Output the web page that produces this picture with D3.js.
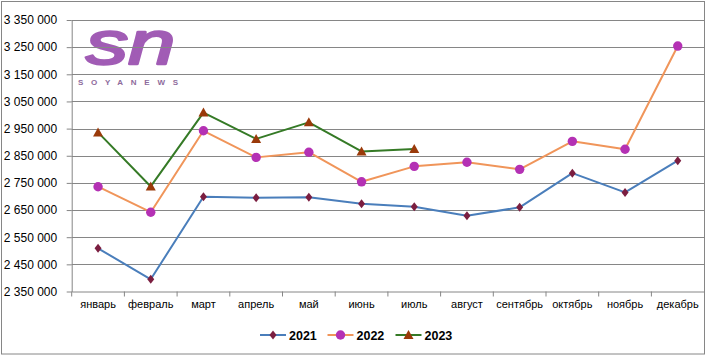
<!DOCTYPE html>
<html><head><meta charset="utf-8">
<script src="https://cdn.jsdelivr.net/npm/d3@7"></script>
<style>html,body{margin:0;padding:0;background:#fff;}svg{display:block;}</style>
</head><body>
<svg id="c" width="706" height="356"></svg>
<script>
const months = ["январь","февраль","март","апрель","май","июнь","июль","август","сентябрь","октябрь","ноябрь","декабрь"];
const yTicks = [2350000,2450000,2550000,2650000,2750000,2850000,2950000,3050000,3150000,3250000,3350000];
const s2021 = [2509000,2395000,2699000,2695000,2697000,2673000,2662000,2629000,2660000,2786000,2715000,2832000];
const s2022 = [2736000,2642000,2942000,2844000,2863000,2754000,2811000,2826000,2800000,2903000,2874000,3254000];
const s2023 = [2936000,2737000,3009000,2912000,2973000,2866000,2875000];
const seriesNames = ["2021","2022","2023"];

const svg = d3.select("#c");
const L = 71.7, R = 704.1, T = 20, B = 291.5;
const x = d3.scaleBand().domain(months).range([L, R]);
const y = d3.scaleLinear().domain([2350000, 3350000]).range([B, T]);
const grid = "#868686";

// outer border
svg.append("rect").attr("x",1.5).attr("y",1.5).attr("width",703).attr("height",352.5)
  .attr("fill","#fff").attr("stroke",grid).attr("stroke-width",1);

// logo watermark
const logo = svg.append("g");
logo.append("text").attr("x",86).attr("y",64).text("sn")
  .attr("font-family","Liberation Sans").attr("font-style","italic").attr("font-size",62)
  .attr("fill","#a15cb5").attr("stroke","#a15cb5").attr("stroke-width",2.5).attr("stroke-linejoin","round")
  .attr("textLength",89).attr("lengthAdjust","spacingAndGlyphs");
logo.append("text").attr("x",78).attr("y",84.5).text("SOYANEWS")
  .attr("font-family","Liberation Sans").attr("font-weight","bold").attr("font-size",8)
  .attr("fill","#8e6b9c").attr("textLength",100).attr("lengthAdjust","spacing");

// gridlines
svg.append("g").selectAll("line").data(yTicks.slice(1)).join("line")
  .attr("x1",L).attr("x2",R).attr("y1",d=>Math.round(y(d))+0.5).attr("y2",d=>Math.round(y(d))+0.5)
  .attr("stroke",grid).attr("stroke-width",1);

const loc = d3.formatLocale({decimal:",",thousands:" ",grouping:[3],currency:["",""]});
const fmt = loc.format(",d");

// y axis
const ya = svg.append("g").attr("transform",`translate(${L},0)`)
  .call(d3.axisLeft(y).tickValues(yTicks).tickFormat(fmt).tickSize(5).tickPadding(9.5).tickSizeOuter(0));
ya.select(".domain").attr("stroke",grid);
ya.selectAll(".tick line").attr("stroke",grid);
ya.selectAll("text").attr("font-family","Liberation Sans").attr("font-size",12).attr("fill","#000");

// x axis
const xa = svg.append("g").attr("transform",`translate(0,${B})`)
  .call(d3.axisBottom(x).tickSize(0).tickPadding(8.5).tickSizeOuter(0));
xa.select(".domain").attr("stroke",grid);
xa.selectAll("text").attr("font-family","Liberation Sans").attr("font-size",11).attr("fill","#000");
svg.append("g").selectAll("line").data(months).join("line")
  .attr("x1",d=>x(d)).attr("x2",d=>x(d)).attr("y1",B).attr("y2",B+5)
  .attr("stroke",grid);

const cx = d=>x(d)+x.bandwidth()/2;
const styles = [
  {data:s2021, line:"#4a7ebb", mark:"#7b1e40", sym:"diamond"},
  {data:s2022, line:"#f0955a", mark:"#b431b4", sym:"circle"},
  {data:s2023, line:"#357a26", mark:"#9a3a0a", sym:"triangle"}
];
function drawMarker(g, sym, col, px, py){
  if(sym==="circle") g.append("circle").attr("cx",px).attr("cy",py).attr("r",4.7).attr("fill",col);
  else if(sym==="diamond") g.append("path").attr("d",`M${px},${py-4.5}L${px+3.5},${py}L${px},${py+4.5}L${px-3.5},${py}Z`).attr("fill",col);
  else g.append("path").attr("d",`M${px},${py-5}L${px+5},${py+4}L${px-5},${py+4}Z`).attr("fill",col);
}
const lineGen = d3.line().x(d=>cx(d.m)).y(d=>y(d.v));
styles.forEach((s,i)=>{
  const pts = s.data.map((v,j)=>({m:months[j],v}));
  svg.append("path").datum(pts).attr("d",lineGen).attr("fill","none")
    .attr("stroke",s.line).attr("stroke-width",2).attr("stroke-linejoin","round");
  const g = svg.append("g");
  pts.forEach(p=>drawMarker(g,s.sym,s.mark,cx(p.m),y(p.v)));
});

// legend
const legX = [260, 327.5, 395.5];
const ly = 335;
seriesNames.forEach((n,i)=>{
  const s = styles[i];
  const g = svg.append("g");
  g.append("line").attr("x1",legX[i]).attr("x2",legX[i]+26).attr("y1",ly).attr("y2",ly)
    .attr("stroke",s.line).attr("stroke-width",2);
  drawMarker(g,s.sym,s.mark,legX[i]+13,ly);
  g.append("text").attr("x",legX[i]+29).attr("y",ly+4.5).text(n)
    .attr("font-family","Liberation Sans").attr("font-weight","bold").attr("font-size",12.5).attr("fill","#000");
});
</script>
</body></html>
